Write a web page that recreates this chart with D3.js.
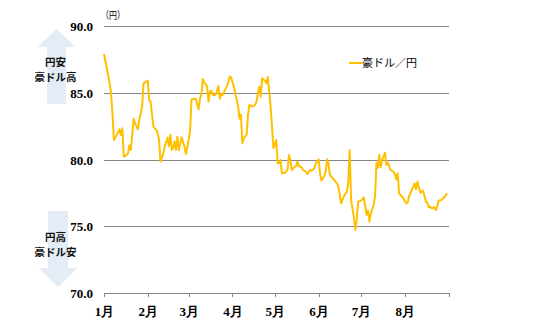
<!DOCTYPE html>
<html>
<head>
<meta charset="utf-8">
<script src="https://cdn.jsdelivr.net/npm/d3@7"></script>
<style>
  html, body { margin: 0; padding: 0; background: #fff; }
  svg { display: block; }
</style>
</head>
<body>
<svg id="chart" width="540" height="334"></svg>
<script>
// AUD/JPY daily closes, 2016 (Jan – Aug)
const dates = [
  "2016-01-01","2016-01-03","2016-01-05","2016-01-06","2016-01-07","2016-01-08","2016-01-10","2016-01-12",
  "2016-01-13","2016-01-14","2016-01-15","2016-01-17","2016-01-18","2016-01-19","2016-01-20","2016-01-22",
  "2016-01-23","2016-01-25","2016-01-26","2016-01-28","2016-01-29","2016-01-31","2016-02-01","2016-02-02",
  "2016-02-03","2016-02-05","2016-02-07","2016-02-08","2016-02-09","2016-02-10","2016-02-12","2016-02-13",
  "2016-02-15","2016-02-16","2016-02-17","2016-02-18","2016-02-19","2016-02-20","2016-02-21","2016-02-22",
  "2016-02-23","2016-02-25","2016-02-27","2016-02-28","2016-03-01","2016-03-02","2016-03-03","2016-03-05",
  "2016-03-06","2016-03-08","2016-03-09","2016-03-10","2016-03-11","2016-03-12","2016-03-14","2016-03-15",
  "2016-03-16","2016-03-17","2016-03-18","2016-03-20","2016-03-22","2016-03-23","2016-03-24","2016-03-25",
  "2016-03-27","2016-03-29","2016-03-30","2016-03-31","2016-04-02","2016-04-03","2016-04-05","2016-04-06",
  "2016-04-07","2016-04-08","2016-04-09","2016-04-11","2016-04-12","2016-04-13","2016-04-15","2016-04-17",
  "2016-04-18","2016-04-19","2016-04-20","2016-04-21","2016-04-22","2016-04-24","2016-04-25","2016-04-26",
  "2016-04-27","2016-04-28","2016-04-29","2016-04-30","2016-05-02","2016-05-03","2016-05-04","2016-05-05",
  "2016-05-06","2016-05-08","2016-05-10","2016-05-11","2016-05-12","2016-05-13","2016-05-14","2016-05-16",
  "2016-05-17","2016-05-18","2016-05-20","2016-05-21","2016-05-23","2016-05-24","2016-05-26","2016-05-27",
  "2016-05-29","2016-05-30","2016-06-01","2016-06-02","2016-06-03","2016-06-05","2016-06-06","2016-06-07",
  "2016-06-08","2016-06-09","2016-06-11","2016-06-13","2016-06-14","2016-06-15","2016-06-17","2016-06-18",
  "2016-06-19","2016-06-21","2016-06-22","2016-06-23","2016-06-24","2016-06-26","2016-06-27","2016-06-28",
  "2016-06-29","2016-07-01","2016-07-02","2016-07-03","2016-07-05","2016-07-06","2016-07-07","2016-07-08",
  "2016-07-10","2016-07-11","2016-07-12","2016-07-13","2016-07-14","2016-07-15","2016-07-16","2016-07-17",
  "2016-07-18","2016-07-19","2016-07-20","2016-07-22","2016-07-24","2016-07-25","2016-07-26","2016-07-27",
  "2016-07-28","2016-07-29","2016-07-31","2016-08-02","2016-08-03","2016-08-04","2016-08-06","2016-08-07",
  "2016-08-08","2016-08-09","2016-08-10","2016-08-12","2016-08-13","2016-08-14","2016-08-16","2016-08-17",
  "2016-08-18","2016-08-19","2016-08-20","2016-08-22","2016-08-23","2016-08-24","2016-08-25","2016-08-27",
  "2016-08-29","2016-08-31"
];

const audJpy = [
  87.95,86.88,85.75,85.00,83.50,81.50,81.88,82.30,
  81.88,82.38,80.25,80.38,80.50,81.10,80.75,83.10,
  82.75,82.30,83.00,84.00,85.75,85.88,85.95,84.50,
  84.38,82.50,82.25,82.00,81.50,79.88,80.50,81.00,
  81.68,81.05,81.88,80.75,80.90,81.40,80.75,81.75,
  80.75,81.70,81.00,80.45,81.50,82.25,84.55,84.60,
  84.60,83.80,84.60,84.88,86.08,85.80,85.55,84.38,
  85.13,85.20,84.88,84.88,85.55,84.60,84.93,84.88,
  85.30,85.80,86.25,86.20,85.50,85.00,84.00,83.10,
  83.40,81.25,81.65,81.88,83.38,84.13,84.00,84.13,
  84.38,85.00,85.50,84.75,86.13,85.95,85.75,86.25,
  85.13,84.00,82.50,80.88,81.50,79.75,79.75,80.00,
  79.00,79.05,79.25,80.38,80.00,79.25,79.38,79.55,
  79.88,79.55,79.45,79.25,79.13,78.95,79.25,79.20,
  79.38,79.75,80.05,79.00,78.45,78.80,79.13,80.05,
  79.70,78.88,78.63,78.38,78.25,78.00,76.75,77.05,
  77.30,77.63,78.30,80.75,77.00,75.70,74.75,75.50,
  76.88,76.95,77.05,77.20,75.88,76.20,75.38,76.00,
  76.63,77.30,79.80,79.40,80.38,79.45,80.00,80.25,
  80.55,79.63,79.80,79.25,79.13,78.95,78.55,79.00,
  77.50,77.38,77.13,76.75,76.80,77.25,77.75,78.00,
  78.25,77.80,78.38,77.55,77.63,77.70,76.88,76.80,
  76.45,76.50,76.38,76.45,76.25,76.50,76.95,77.00,
  77.20,77.50
];

const monthStarts = ["2016-01-01","2016-02-01","2016-03-01","2016-04-01","2016-05-01",
                     "2016-06-01","2016-07-01","2016-08-01","2016-09-01"];
const monthLabels = ["1月","2月","3月","4月","5月","6月","7月","8月",""];
const yTicks = [70, 75, 80, 85, 90];
const seriesName = "豪ドル／円";
const unitLabel = "（円）";
const upLabel = ["円安", "豪ドル高"];
const downLabel = ["円高", "豪ドル安"];

const parse = d3.timeParse("%Y-%m-%d");
const data = dates.map((d, i) => ({ date: parse(d), value: audJpy[i] }));
const ticks = monthStarts.map(parse);

const svg = d3.select("#chart");
const plotLeft = 104, plotRight = 448.5, plotTop = 26.7, plotBottom = 293.3;

const x = d3.scaleTime().domain([ticks[0], ticks[ticks.length - 1]]).range([plotLeft, plotRight]);
const y = d3.scaleLinear().domain([70, 90]).range([plotBottom, plotTop]);

const serif = "'Liberation Serif','Times New Roman',serif";
const jp = "'Noto Sans CJK JP','Noto Sans',sans-serif";
const gridColor = "#868686";

// Direction arrows on the left
const arrowFill = "#e4ecf6";
svg.append("path")
  .attr("d", "M56.5,29 L75.5,47 L66,47 L66,104 L47,104 L47,47 L37.5,47 Z")
  .attr("fill", arrowFill);
svg.append("path")
  .attr("d", "M48,211 L68,211 L68,268 L77.5,268 L58,287 L38.5,268 L48,268 Z")
  .attr("fill", arrowFill);

function arrowText(lines, cy) {
  svg.append("g").selectAll("text").data(lines).join("text")
    .attr("x", 55.5)
    .attr("y", (d, i) => cy + i * 15)
    .attr("text-anchor", "middle")
    .attr("font-family", jp)
    .attr("font-weight", "bold")
    .attr("font-size", 10.5)
    .attr("fill", "#111")
    .text(d => d);
}
arrowText(upLabel, 66);
arrowText(downLabel, 241);

// Horizontal gridlines
svg.append("g").selectAll("line").data(yTicks).join("line")
  .attr("x1", plotLeft).attr("x2", plotRight)
  .attr("y1", d => y(d)).attr("y2", d => y(d))
  .attr("stroke", gridColor).attr("stroke-width", 1)
  .attr("shape-rendering", "crispEdges");

// Y tick labels
svg.append("g").selectAll("text").data(yTicks).join("text")
  .attr("x", 93)
  .attr("y", d => y(d))
  .attr("dy", "0.36em")
  .attr("text-anchor", "end")
  .attr("font-family", serif)
  .attr("font-weight", "bold")
  .attr("font-size", 13)
  .attr("fill", "#000")
  .text(d => d3.format(".1f")(d));

// Unit label
svg.append("text")
  .attr("x", 101).attr("y", 19)
  .attr("font-family", jp).attr("font-size", 10)
  .attr("textLength", 24).attr("lengthAdjust", "spacingAndGlyphs")
  .text(unitLabel);

// X axis
const xAxis = d3.axisBottom(x)
  .tickValues(ticks)
  .tickSize(4)
  .tickSizeOuter(0)
  .tickFormat((d, i) => monthLabels[i]);
const gx = svg.append("g").attr("transform", `translate(0,${plotBottom})`).call(xAxis);
gx.select(".domain").attr("stroke", gridColor).attr("shape-rendering", "crispEdges");
gx.selectAll(".tick line").attr("stroke", gridColor).attr("shape-rendering", "crispEdges");
gx.selectAll(".tick text")
  .attr("y", 13)
  .attr("font-family", serif)
  .attr("font-weight", "bold")
  .attr("font-size", 13)
  .attr("fill", "#000");

// Series line
const line = d3.line().x(d => x(d.date)).y(d => y(d.value));
svg.append("path")
  .datum(data)
  .attr("d", line)
  .attr("fill", "none")
  .attr("stroke", "#ffc000")
  .attr("stroke-width", 2)
  .attr("stroke-linejoin", "round");

// Legend
svg.append("line")
  .attr("x1", 349).attr("x2", 362).attr("y1", 63).attr("y2", 63)
  .attr("stroke", "#ffc000").attr("stroke-width", 2);
svg.append("text")
  .attr("x", 362).attr("y", 63).attr("dy", "0.36em")
  .attr("font-family", jp).attr("font-size", 11)
  .attr("fill", "#000")
  .text(seriesName);
</script>
</body>
</html>
